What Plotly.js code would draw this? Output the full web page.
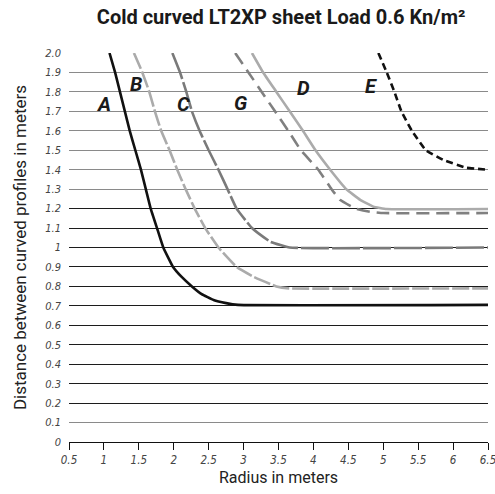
<!DOCTYPE html>
<html>
<head>
<meta charset="utf-8">
<script src="https://cdn.plot.ly/plotly-3.0.1.min.js"></script>
<style>
  html, body { margin: 0; padding: 0; background: #fff; }
  #chart { width: 495px; height: 494px; }
</style>
</head>
<body>
<div id="chart"></div>
<script>
// ---- data ----
const seriesNames = ["A", "B", "C", "G", "D", "E"];

const aX = [1.08, 1.16, 1.23, 1.30, 1.37, 1.45, 1.53, 1.60, 1.67, 1.76, 1.85, 1.99, 2.11, 2.26, 2.40, 2.57, 2.75, 2.92, 6.5];
const aY = [2.0, 1.9, 1.8, 1.7, 1.6, 1.5, 1.4, 1.3, 1.2, 1.1, 1.0, 0.9, 0.85, 0.8, 0.76, 0.73, 0.714, 0.705, 0.705];

const bX = [1.43, 1.55, 1.65, 1.73, 1.82, 1.94, 2.05, 2.17, 2.30, 2.45, 2.64, 2.90, 3.14, 3.47, 3.65, 6.5];
const bY = [2.0, 1.9, 1.8, 1.7, 1.6, 1.5, 1.4, 1.3, 1.2, 1.1, 1.0, 0.9, 0.85, 0.80, 0.79, 0.79];

const cX = [1.98, 2.09, 2.18, 2.26, 2.37, 2.50, 2.64, 2.77, 2.90, 3.12, 3.38, 3.66, 6.5];
const cY = [2.0, 1.9, 1.8, 1.7, 1.6, 1.5, 1.4, 1.3, 1.2, 1.1, 1.03, 1.0, 1.0];

const gX = [2.88, 3.07, 3.26, 3.45, 3.64, 3.82, 4.07, 4.26, 4.38, 4.60, 4.81, 5.0, 6.5];
const gY = [2.0, 1.9, 1.8, 1.7, 1.6, 1.5, 1.4, 1.3, 1.245, 1.20, 1.184, 1.177, 1.177];

const dX = [3.12, 3.28, 3.47, 3.66, 3.85, 4.03, 4.24, 4.47, 4.67, 4.86, 5.05, 6.5];
const dY = [2.0, 1.9, 1.8, 1.7, 1.6, 1.5, 1.4, 1.3, 1.245, 1.21, 1.198, 1.198];

const eX = [4.93, 5.05, 5.16, 5.26, 5.41, 5.61, 5.86, 6.19, 6.33, 6.48];
const eY = [2.0, 1.9, 1.8, 1.7, 1.6, 1.5, 1.45, 1.41, 1.405, 1.40];

// label anchor positions (data coords) for the curve letters
const labelX = [1.00, 1.46, 2.14, 2.95, 3.86, 4.83];
const labelY = [1.74, 1.84, 1.74, 1.745, 1.82, 1.83];

const xTickVals = [0.5, 1, 1.5, 2, 2.5, 3, 3.5, 4, 4.5, 5, 5.5, 6, 6.5];
const xTickText = ["0.5", "1", "1.5", "2", "2.5", "3", "3.5", "4", "4.5", "5", "5.5", "6", "6.5"];
const yTickVals = [0, 0.1, 0.2, 0.3, 0.4, 0.5, 0.6, 0.7, 0.8, 0.9, 1.0, 1.1, 1.2, 1.3, 1.4, 1.5, 1.6, 1.7, 1.8, 1.9, 2.0];
const yTickText = ["0", "0.1", "0.2", "0.3", "0.4", "0.5", "0.6", "0.7", "0.8", "0.9", "1", "1.1", "1.2", "1.3", "1.4", "1.5", "1.6", "1.7", "1.8", "1.9", "2.0"];
const darkGridVals = [0.2, 0.3, 0.4, 0.5, 0.6, 0.7, 0.8, 0.9, 1.0, 1.1, 1.2];

const titleText = "Cold curved LT2XP sheet Load 0.6 Kn/m²";
const xTitle = "Radius in meters";
const yTitle = "Distance between curved profiles in meters";

// ---- styling ----
const NARROW = "'Liberation Sans Narrow', 'Arial Narrow', Roboto, sans-serif";
const TICKF = "'DejaVu Sans Condensed', 'Liberation Sans Narrow', Roboto, sans-serif";
const ital = t => "<i>" + t + "</i>";

function line(x, y, color, dash, name) {
  return {
    type: "scatter", mode: "lines", x: x, y: y, name: name,
    line: { color: color, width: 2.6, dash: dash, shape: "spline", smoothing: 0.3 },
    hoverinfo: "skip", showlegend: false
  };
}

const traces = [
  line(bX, bY, "#ababab", "17px,3px", "B"),
  line(dX, dY, "#ababab", "solid", "D"),
  line(cX, cY, "#7a7a7a", "28px,3px", "C"),
  line(gX, gY, "#808080", "13px,7px", "G"),
  line(eX, eY, "#111111", "7px,4px", "E"),
  line(aX, aY, "#111111", "solid", "A")
];
// dark gridlines drawn by an overlaid axis
traces.push({ type: "scatter", mode: "markers", x: [], y: [], yaxis: "y2", showlegend: false, hoverinfo: "skip" });

const annotations = seriesNames.map((n, i) => ({
  x: labelX[i], y: labelY[i], xref: "x", yref: "y", text: ital(n), showarrow: false,
  font: { family: NARROW, size: 20, color: "#1a1a1a", weight: "bold", style: "italic" },
  xanchor: "center", yanchor: "middle"
}));

const layout = {
  width: 495, height: 494,
  margin: { l: 69, r: 7, t: 53, b: 52 },
  paper_bgcolor: "#fff", plot_bgcolor: "#fff",
  title: {
    text: titleText, x: 0.568, xanchor: "center", y: 0.965, yanchor: "middle",
    font: { family: NARROW, size: 20, color: "#1a1a1a", weight: "bold" }
  },
  xaxis: {
    range: [0.5, 6.5], tickvals: xTickVals, ticktext: xTickText.map(ital),
    showgrid: false, zeroline: false,
    showline: true, linecolor: "#111", linewidth: 1,
    ticks: "outside", ticklen: 7, tickcolor: "#111", tickwidth: 1,
    ticklabeloverflow: "allow",
    tickfont: { family: TICKF, size: 11.5, color: "#444" },
    title: { text: xTitle, standoff: 6, font: { family: NARROW, size: 16, color: "#222" } },
    fixedrange: true
  },
  yaxis: {
    range: [0, 2.0], tickvals: yTickVals, ticktext: yTickText.map(ital),
    showgrid: true, gridcolor: "#8a8a8a", gridwidth: 1,
    zeroline: false, showline: false, ticks: "",
    ticklabelstandoff: 7,
    tickfont: { family: TICKF, size: 11, color: "#444" },
    title: { text: yTitle, standoff: 14, font: { family: NARROW, size: 17, color: "#222" } },
    fixedrange: true
  },
  yaxis2: {
    overlaying: "y", range: [0, 2.0], tickvals: darkGridVals,
    showgrid: true, gridcolor: "#1c1c1c", gridwidth: 1,
    showticklabels: false, zeroline: false, showline: false, ticks: "",
    fixedrange: true
  },
  annotations: annotations,
  showlegend: false
};

Plotly.newPlot("chart", traces, layout, { displayModeBar: false, staticPlot: true });
</script>
</body>
</html>
